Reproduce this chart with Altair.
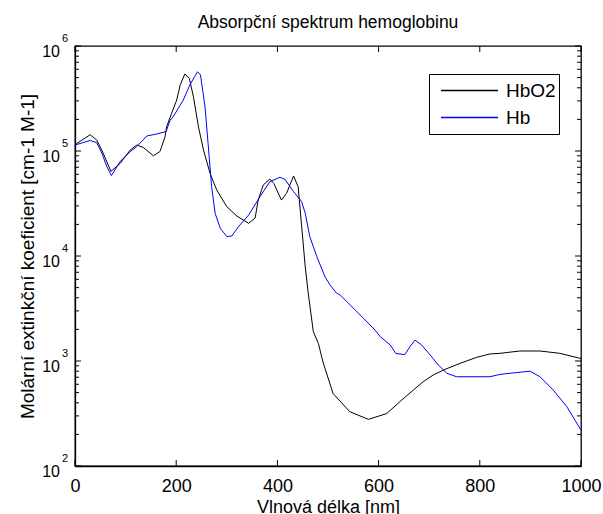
import altair as alt
import pandas as pd

# ---- data (wavelength in nm, molar extinction coefficient) ----
hbo2_nm = [0, 30, 43, 53, 71, 89, 109, 122, 135, 155, 168, 178, 181, 191, 201, 208, 217, 226,
           234, 244, 254, 267, 280, 300, 320, 343, 356, 362, 372, 385, 393, 408, 418, 432, 441,
           448, 455, 461, 471, 481, 490, 510, 543, 580, 616, 646, 669, 688, 708, 728, 761, 794,
           820, 840, 879, 919, 958, 995, 1000]
hbo2_val = [115000, 143000, 127000, 102000, 64000, 76000, 102000, 114000, 108000, 90000, 99000,
            137000, 170000, 229000, 306000, 427000, 541000, 492000, 329000, 170000, 102000, 61000,
            42600, 29500, 24000, 20500, 23000, 34100, 47400, 54100, 49000, 34100, 39500, 57800,
            45700, 19000, 7900, 4400, 1900, 1470, 980, 490, 329, 278, 316, 426, 530, 635, 736, 820,
            950, 1084, 1167, 1183, 1245, 1245, 1183, 1070, 1050]

hb_nm = [0, 30, 43, 53, 63, 72, 89, 109, 122, 142, 161, 180, 188, 194, 214, 227, 242, 248, 257,
         263, 270, 277, 287, 300, 310, 323, 343, 366, 385, 405, 415, 432, 448, 455, 464, 478, 494,
         504, 517, 524, 544, 570, 593, 603, 623, 634, 652, 662, 672, 685, 702, 718, 735, 754, 820,
         840, 860, 899, 919, 945, 972, 1000]
hb_val = [114000, 126000, 120000, 95500, 70800, 58200, 79400, 98600, 110000, 139000, 145000,
          153000, 197000, 212000, 306000, 426000, 569000, 530000, 263000, 118000, 45700, 25500,
          18400, 15300, 15500, 19000, 24500, 37000, 51000, 56200, 53700, 41000, 32900, 25500,
          15300, 9840, 6350, 5300, 4420, 4260, 3410, 2550, 1970, 1710, 1420, 1180, 1150, 1370,
          1580, 1420, 1140, 916, 764, 708, 708, 746, 764, 800, 708, 530, 367, 220]

series_names = ["HbO2", "Hb"]
series_colors = ["#000000", "#0000ff"]

x_ticks = [0, 200, 400, 600, 800, 1000]
y_major = [100, 1000, 10000, 100000, 1000000]
y_exponents = ["2", "3", "4", "5", "6"]
y_minor = [200, 300, 400, 500, 600, 700, 800, 900,
           2000, 3000, 4000, 5000, 6000, 7000, 8000, 9000,
           20000, 30000, 40000, 50000, 60000, 70000, 80000, 90000,
           200000, 300000, 400000, 500000, 600000, 700000, 800000, 900000]

FONT = "Liberation Sans"
W, H = 506, 420

df = pd.concat([
    pd.DataFrame({"nm": hbo2_nm, "val": hbo2_val, "series": series_names[0]}),
    pd.DataFrame({"nm": hb_nm, "val": hb_val, "series": series_names[1]}),
])
xt = pd.DataFrame({"nm": x_ticks})
ymaj = pd.DataFrame({"val": y_major, "e": y_exponents})
ymin = pd.DataFrame({"val": y_minor})

xscale = alt.Scale(domain=[0, 1000], nice=False, zero=False)
yscale = alt.Scale(type="log", domain=[100, 1000000], nice=False)

xaxis = alt.Axis(values=x_ticks, format="d", title="Vlnová délka [nm]", ticks=False, tickSize=0,
                 labelPadding=11, titlePadding=3, grid=False, labelFontSize=18,
                 titleFontSize=18, titleFontWeight="normal", labelFlush=False,
                 domainColor="black", domainWidth=1.3, labelColor="black",
                 titleColor="black", labelFont=FONT, titleFont=FONT)
yaxis = alt.Axis(labels=False, ticks=False, tickSize=0, grid=False,
                 title="Molární extinkční koeficient [cm-1 M-1]", titlePadding=38,
                 titleFontSize=19, titleFontWeight="normal", titleColor="black",
                 titleFont=FONT, domainColor="black", domainWidth=1.3)

X = alt.X("nm:Q", scale=xscale, axis=xaxis)
Y = alt.Y("val:Q", scale=yscale, axis=yaxis)

lines = alt.Chart(df).mark_line(strokeWidth=1, clip=True).encode(
    x=X, y=Y,
    stroke=alt.Stroke("series:N",
                      scale=alt.Scale(domain=series_names, range=series_colors),
                      legend=alt.Legend(orient="none", legendX=354, legendY=28, title=None,
                                        strokeColor="black", fillColor="white", padding=3,
                                        symbolType="stroke", symbolSize=3249,
                                        symbolOffset=8, labelOffset=7,
                                        labelFontSize=19, labelColor="black", labelFont=FONT,
                                        clipHeight=27, rowPadding=0)),
)

xb = alt.Chart(xt).mark_rule(color="black", strokeWidth=1).encode(
    x=X, y=alt.value(H), y2=alt.value(H - 6))
xtop = alt.Chart(xt).mark_rule(color="black", strokeWidth=1).encode(
    x=X, y=alt.value(0), y2=alt.value(6))
yl = alt.Chart(ymaj).mark_rule(color="black", strokeWidth=1).encode(
    y=Y, x=alt.value(0), x2=alt.value(6))
yr = alt.Chart(ymaj).mark_rule(color="black", strokeWidth=1).encode(
    y=Y, x=alt.value(W), x2=alt.value(W - 6))
yml = alt.Chart(ymin).mark_rule(color="black", strokeWidth=1).encode(
    y=Y, x=alt.value(0), x2=alt.value(4))
ymr = alt.Chart(ymin).mark_rule(color="black", strokeWidth=1).encode(
    y=Y, x=alt.value(W), x2=alt.value(W - 4))

ten = alt.Chart(ymaj).mark_text(text="10", align="right", baseline="middle", dy=6,
                                fontSize=16, font=FONT, color="black").encode(
    y=Y, x=alt.value(-15))
expo = alt.Chart(ymaj).mark_text(align="left", baseline="middle", dy=-7,
                                 fontSize=11, font=FONT, color="black").encode(
    y=Y, x=alt.value(-13), text="e:N")

chart = alt.layer(lines, xb, xtop, yl, yr, yml, ymr, ten, expo).properties(
    width=W, height=H,
    title=alt.TitleParams("Absorpční spektrum hemoglobinu", fontSize=17.5, fontWeight="normal",
                          color="black", font=FONT, anchor="middle", offset=2),
    autosize=alt.AutoSizeParams(type="none"),
    padding={"left": 75, "top": 46, "right": 22, "bottom": 48},
    background="white",
).configure_view(stroke="black", strokeWidth=1.3)

chart.save("out.html", embed_options={"renderer": "svg", "actions": False})
